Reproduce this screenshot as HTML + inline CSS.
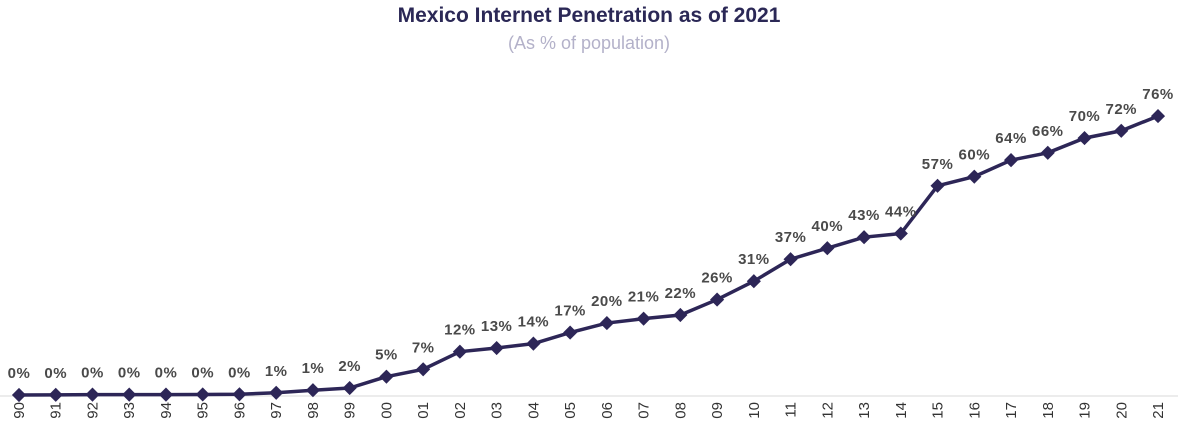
<!DOCTYPE html>
<html><head><meta charset="utf-8"><style>
body{margin:0;background:#fff;}
svg{display:block;font-family:"Liberation Sans",sans-serif;}
</style></head><body>
<svg width="1178" height="432">
<text x="589" y="22" text-anchor="middle" font-size="21" font-weight="bold" fill="#2b2856">Mexico Internet Penetration as of 2021</text>
<text x="589" y="49" text-anchor="middle" font-size="18" fill="#b3b1c9">(As % of population)</text>
<line x1="0" y1="396" x2="1178" y2="396" stroke="#d9d9d9" stroke-width="1"/>
<g id="marks"></g>
</svg>
<script>
const years=["90","91","92","93","94","95","96","97","98","99","00","01","02","03","04","05","06","07","08","09","10","11","12","13","14","15","16","17","18","19","20","21"];
const values=[0,0.05,0.1,0.1,0.1,0.15,0.2,0.6,1.3,1.9,5,7,11.8,12.8,14,17,19.6,20.8,21.8,26,31,37,40,43,44,57,59.5,64,66,70,72,76];
const labels=["0%","0%","0%","0%","0%","0%","0%","1%","1%","2%","5%","7%","12%","13%","14%","17%","20%","21%","22%","26%","31%","37%","40%","43%","44%","57%","60%","64%","66%","70%","72%","76%"];
const NS="http://www.w3.org/2000/svg";
const g=document.getElementById('marks');
const x0=19,x1=1158,y0=395,pxPer=3.67;
const xs=i=>x0+i*(x1-x0)/(years.length-1);
const ys=v=>y0-v*pxPer;
const line=document.createElementNS(NS,'polyline');


line.setAttribute('points',values.map((v,i)=>xs(i)+','+ys(v)).join(' '));
line.setAttribute('fill','none');line.setAttribute('stroke','#2d2657');line.setAttribute('stroke-width','3.5');
g.appendChild(line);
values.forEach((v,i)=>{
  const x=xs(i),y=ys(v);
  const m=document.createElementNS(NS,'rect');
  
  
  m.setAttribute('x',x-5);m.setAttribute('y',y-5);m.setAttribute('width',10);m.setAttribute('height',10);
  m.setAttribute('fill','#2d2657');m.setAttribute('transform','rotate(45 '+x+' '+y+')');
  g.appendChild(m);
  const t=document.createElementNS(NS,'text');
  
  
  t.setAttribute('x',x);t.setAttribute('y',y-17);t.setAttribute('text-anchor','middle');
  t.setAttribute('font-size','15');t.setAttribute('font-weight','bold');t.setAttribute('fill','#4a4a4a');t.setAttribute('letter-spacing','0.5');
  t.textContent=labels[i];g.appendChild(t);
  const yl=document.createElementNS(NS,'text');
  
  
  yl.setAttribute('transform','translate('+(x+5)+',402) rotate(-90)');
  yl.setAttribute('text-anchor','end');yl.setAttribute('font-size','15');yl.setAttribute('fill','#333');
  yl.textContent=years[i];g.appendChild(yl);
});
</script>
</body></html>
